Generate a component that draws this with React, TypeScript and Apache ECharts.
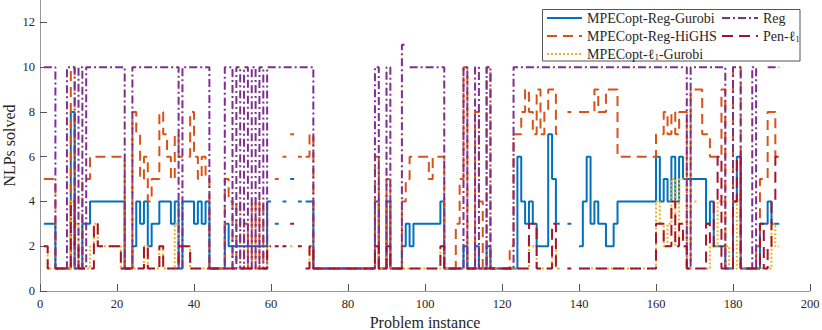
import React, { useEffect, useRef } from "react";
import * as echarts from "echarts";

const n = null;

// Problem instances 1..192 (stairs plot, MATLAB style)
const xTicks = [0, 20, 40, 60, 80, 100, 120, 140, 160, 180, 200];
const yTicks = [0, 2, 4, 6, 8, 10, 12];

const gurobi = [
  3, 3, 3, 1, 1, 1, 1, 8, 1, 1,
  3, 3, 4, 4, 4, 4, 4, 4, 4, 4,
  4, 1, 1, 2, 4, 3, 4, 2, 3, 3,
  4, 4, 4, 3, 4, 1, 4, 4, 4, 3,
  4, 3, 4, 1, 1, 1, 1, 3, 2, 2,
  2, 2, 2, 2, 2, 2, 2, 2, 4, n,
  3, n, 4, n, 5, n, 4, n, 4, 4,
  1, 1, 1, 1, 1, 1, 1, 1, 1, 1,
  1, 1, 1, 1, 1, 1, 4, 1, 1, 4,
  1, 1, 1, 2, 3, 2, 3, 3, 3, 3,
  3, 3, 3, 4, 1, 1, 1, 1, 1, 2,
  1, 1, 2, 1, 1, 2, 1, 1, 1, 1,
  1, 1, 1, 6, 4, 3, 4, 3, 2, 2,
  2, 7, 5, 3, n, n, 3, n, n, 2,
  4, 6, 3, 4, 3, 3, 2, 2, 3, 4,
  4, 4, 4, 4, 4, 4, 4, 4, 4, 6,
  4, 5, 4, 6, 4, 6, 5, 5, 5, 5,
  5, 5, 3, 4, 2, 2, 2, 1, 1, 4,
  6, 1, 1, 1, 1, 1, 3, 3, 4, 3,
  3, 3,
];

const highs = [
  5, 5, 5, 1, 1, 1, 1, 10, 1, 1,
  5, 5, 6, 6, 6, 6, 6, 6, 6, 6,
  6, 1, 1, 8, 7, 5, 6, 4, 5, 5,
  8, 7, 6, 5, 7, 6, 6, 6, 8, 6,
  5, 6, 5, 1, 1, 1, 1, 5, 4, 1,
  4, 1, 3, 1, 4, 1, 4, 1, n, n,
  5, n, 6, n, 7, n, 6, n, 6, 7,
  1, 1, 1, 1, 1, 1, 1, 1, 1, 1,
  1, 1, 1, 1, 1, 1, 6, 1, 1, 5,
  1, 1, 1, 4, 5, 6, 6, 6, 6, 6,
  5, 6, 6, 6, 1, 1, 1, 3, 5, 10,
  1, 1, 8, 4, 1, 10, 1, 1, 1, 1,
  1, 2, 7, 7, 8, 9, 8, 7, 9, 7,
  8, 9, 9, 7, n, n, 8, n, n, 8,
  8, 8, 8, 9, 8, 8, 9, 9, 9, 6,
  6, 6, 6, 6, 6, 6, 6, 6, 6, 7,
  7, 8, 7, 8, 7, 8, 8, 1, 9, 9,
  9, 7, 7, 6, 6, 6, 9, 1, 1, 10,
  10, 1, 1, 1, 1, 2, 5, 5, 8, 8,
  6, 6,
];

const l1gurobi = [
  2, 1, 1, 1, 1, 1, 1, 4, 3, 1,
  1, 1, 2, 3, 2, 2, 2, 2, 2, 2,
  1, 1, 1, 1, 1, 1, 2, 1, 1, 1,
  2, 1, 1, 1, 3, 2, 2, 2, 1, 1,
  1, 1, 1, 1, 1, 1, 1, 1, 1, 1,
  1, 1, 1, 1, 1, 1, 1, 1, 2, n,
  2, n, 2, n, 2, n, 2, n, 1, 2,
  1, 1, 1, 1, 1, 1, 1, 1, 1, 1,
  1, 1, 1, 1, 1, 1, 2, 1, 1, 2,
  1, 1, 1, 1, 1, 1, 1, 1, 1, 1,
  1, 1, 1, 2, 1, 1, 1, 1, 1, 1,
  1, 1, 1, 1, 1, 1, 1, 1, 1, 1,
  1, 1, 1, 1, 1, 1, 2, 2, 1, 1,
  1, 1, 2, 1, n, n, 1, n, n, 1,
  1, 1, 1, 1, 1, 1, 1, 1, 1, 1,
  1, 1, 1, 1, 1, 1, 1, 1, 1, 4,
  3, 2, 3, 5, 2, 5, 5, 1, n, 4,
  n, n, 1, 2, 2, 4, 4, 2, 1, 1,
  4, 1, 1, 1, 1, 1, 1, 1, 1, 3,
  2, 2,
];

const reg = [
  10, 10, 10, 1, 1, 1, 10, 10, 1, 10,
  1, 10, 10, 10, 10, 10, 10, 10, 10, 10,
  10, 1, 1, 10, 10, 10, 10, 10, 10, 10,
  10, 10, 10, 10, 10, 1, 10, 10, 10, 10,
  10, 10, 10, 1, 1, 1, 1, 10, 10, 1,
  10, 1, 10, 1, 10, 1, 10, 1, 10, 10,
  10, 10, 10, 10, 10, 10, 10, 10, 10, 10,
  1, 1, 1, 1, 1, 1, 1, 1, 1, 1,
  1, 1, 1, 1, 1, 1, 10, 1, 1, 10,
  1, 1, 1, 11, n, 10, 10, 10, 10, 10,
  10, 10, 10, 10, 1, 1, 1, 1, 1, 10,
  1, 1, 10, 1, 1, 10, 1, 1, 1, 1,
  1, 1, 10, 10, 10, 10, 10, 10, 10, 10,
  10, 10, 10, 10, 10, 10, 10, 10, 10, 10,
  10, 10, 10, 10, 10, 10, 10, 10, 10, 10,
  10, 10, 10, 10, 10, 10, 10, 10, 10, 10,
  10, 10, 10, 10, 10, 10, 10, 1, 10, 10,
  10, 10, 10, 10, 10, 10, 10, 1, 1, 10,
  10, 1, 1, 1, 10, 1, n, n, 10, 10,
  10, 10,
];

const penl1 = [
  2, 1, 1, 1, 1, 1, 1, 4, 2, 1,
  1, 1, 1, 3, 2, 2, 2, 2, 2, 2,
  1, 1, 1, 1, 1, 1, 2, 1, 1, 1,
  2, 1, 1, 1, 1, 2, 2, 2, 1, 1,
  1, 1, 1, 1, 1, 1, 1, 1, 1, 1,
  1, 1, 1, 1, 1, 1, 1, 1, 2, n,
  2, n, 2, n, 3, n, 2, n, 1, 2,
  1, 1, 1, 1, 1, 1, 1, 1, 1, 1,
  1, 1, 1, 1, 1, 1, 2, 1, 1, 2,
  1, 1, 1, 1, 1, 1, 1, 1, 1, 1,
  1, 1, 1, 2, 1, 1, 1, 1, 1, 1,
  1, 1, 1, 1, 1, 1, 1, 1, 1, 1,
  1, 1, 1, 1, 1, 1, 3, 3, 1, 1,
  1, 1, 3, 1, n, n, 1, n, n, 1,
  1, 1, 1, 1, 1, 1, 1, 1, 1, 1,
  1, 1, 1, 1, 1, 1, 1, 1, 1, 3,
  3, 2, 2, 4, 2, 3, 2, 1, 1, 1,
  1, 1, 3, 2, 4, 6, 1, 1, 1, 4,
  6, 1, 1, 1, 1, 1, 3, 1, 2, 4,
  6, 6,
];

const names = [
  "MPECopt-Reg-Gurobi",
  "MPECopt-Reg-HiGHS",
  "MPECopt-ℓ1-Gurobi",
  "Reg",
  "Pen-ℓ1",
];

// MATLAB stairs: horizontal from x_i to x_{i+1} at y_i, NaN breaks the line
function stairs(vals: (number | null)[]) {
  const pts: any[] = [];
  for (let k = 0; k < vals.length; k++) {
    const x = k + 1;
    const y = vals[k];
    if (y === null) {
      pts.push([x, "-"]);
      continue;
    }
    pts.push([x, y]);
    if (k < vals.length - 1) pts.push([x + 1, y]);
  }
  return pts;
}

const FONT = "Liberation Serif";
const TXT = "#262626";

export default function App() {
  const ref = useRef<HTMLDivElement>(null);
  useEffect(() => {
    if (!ref.current) return;
    const chart = echarts.init(ref.current, undefined, { renderer: "svg" });
    const mk = (name: string, vals: (number | null)[], color: string, type: any) => ({
      name,
      type: "line",
      data: stairs(vals),
      showSymbol: false,
      symbol: "none",
      connectNulls: false,
      lineStyle: { color, width: 2, type, cap: "butt" },
      itemStyle: { color },
      emphasis: { disabled: true },
    });
    const legendFmt = (name: string) => name.replace("ℓ1", "ℓ{sub|1}");
    const legendText = {
      fontFamily: FONT,
      fontSize: 14,
      color: TXT,
      lineHeight: 16,
      rich: {
        sub: { fontFamily: FONT, fontSize: 9, color: TXT, padding: [6, 0, 0, 0], lineHeight: 16 },
      },
    };
    const legendBase = {
      orient: "vertical",
      top: 10,
      itemHeight: 14,
      itemGap: 2,
      padding: 0,
      formatter: legendFmt,
      textStyle: legendText,
      selectedMode: false,
      itemStyle: { opacity: 0 },
      z: 5,
    };
    chart.setOption({
      animation: false,
      grid: { left: 40, right: 12, top: 0, bottom: 39, containLabel: false, outerBoundsMode: "none" },
      xAxis: {
        type: "value",
        min: 0,
        max: 200,
        interval: 20,
        name: "Problem instance",
        nameLocation: "middle",
        nameGap: 20,
        nameTextStyle: { fontFamily: FONT, fontSize: 16, color: TXT },
        axisLine: { lineStyle: { color: "#999999", width: 1 } },
        axisTick: { inside: true, length: 7, lineStyle: { color: "#555555" }, customValues: xTicks },
        axisLabel: { fontFamily: FONT, fontSize: 12.5, color: TXT, margin: 6, customValues: xTicks },
        splitLine: { show: false },
      },
      yAxis: {
        type: "value",
        min: 0,
        max: 13,
        interval: 2,
        axisLine: { show: true, lineStyle: { color: "#999999", width: 1 } },
        axisTick: { show: true, inside: true, length: 7, lineStyle: { color: "#555555" }, customValues: yTicks },
        axisLabel: { fontFamily: FONT, fontSize: 12.5, color: TXT, margin: 5, customValues: yTicks },
        splitLine: { show: false },
      },
      legend: [
        { ...legendBase, data: [names[0], names[1], names[2]], left: 546, itemWidth: 35 },
        { ...legendBase, data: [names[3], names[4]], left: 721, itemWidth: 36 },
      ],
      graphic: {
        elements: [
          {
            type: "rect",
            z: 4,
            shape: { x: 542.5, y: 9.5, width: 257.5, height: 51.5 },
            style: { fill: "#ffffff", stroke: "#555555", lineWidth: 1 },
            silent: true,
          },
          {
            type: "text",
            x: 9,
            y: 145.5,
            rotation: Math.PI / 2,
            silent: true,
            style: {
              text: "NLPs solved",
              fontFamily: FONT,
              fontSize: 16,
              fill: TXT,
              align: "center",
              verticalAlign: "middle",
            },
          },
        ],
      },
      series: [
        mk(names[0], gurobi, "#0072BD", "solid"),
        mk(names[1], highs, "#D95319", [10, 6]),
        mk(names[2], l1gurobi, "#EDB120", [2, 2]),
        mk(names[3], reg, "#7E2F8E", [8, 3, 2, 3]),
        mk(names[4], penl1, "#A2142F", [11, 6]),
      ],
    });
    return () => chart.dispose();
  }, []);
  return (
    <div
      ref={ref}
      style={{ position: "fixed", left: 0, top: 0, width: 822, height: 330, background: "#fff" }}
    />
  );
}
